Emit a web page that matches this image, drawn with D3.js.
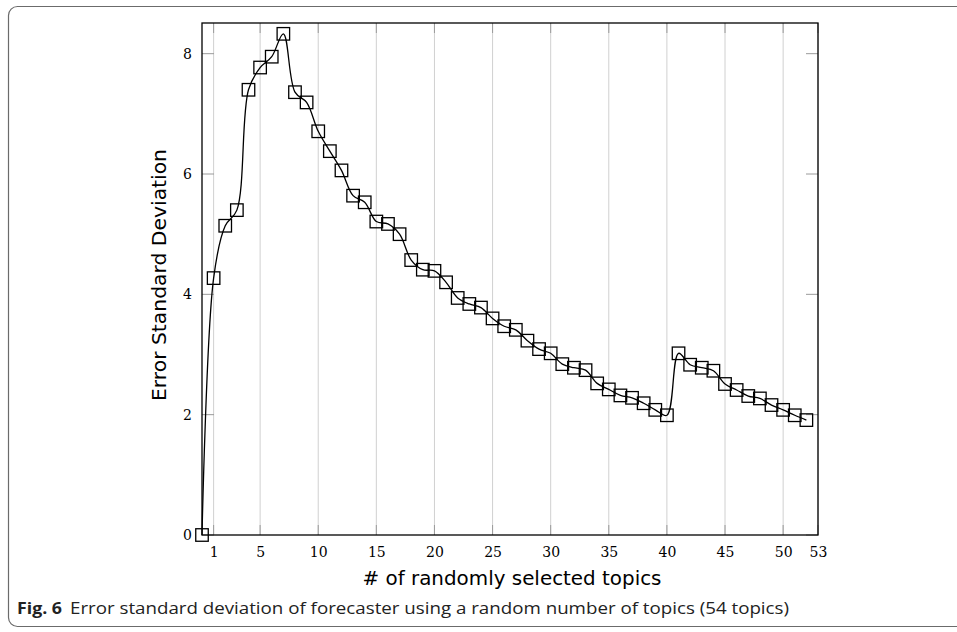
<!DOCTYPE html>
<html>
<head>
<meta charset="utf-8">
<script src="https://cdn.jsdelivr.net/npm/d3@7"></script>
<style>
  html, body { margin: 0; padding: 0; background: #fff; }
  svg { display: block; }
</style>
</head>
<body>
<svg id="chart" width="957" height="632"></svg>
<script>
// ---- data ----
const topics = [0,1,2,3,4,5,6,7,8,9,10,11,12,13,14,15,16,17,18,19,20,21,22,23,24,25,26,27,28,29,30,31,32,33,34,35,36,37,38,39,40,41,42,43,44,45,46,47,48,49,50,51,52];
const stdDev = [0,4.27,5.14,5.40,7.40,7.77,7.95,8.33,7.36,7.19,6.71,6.38,6.06,5.64,5.53,5.21,5.17,5.00,4.57,4.41,4.39,4.20,3.94,3.84,3.78,3.60,3.47,3.41,3.23,3.09,3.02,2.84,2.78,2.74,2.52,2.42,2.32,2.28,2.19,2.08,1.99,3.02,2.83,2.78,2.73,2.51,2.41,2.31,2.27,2.16,2.08,1.99,1.91];
const xTicks = [1,5,10,15,20,25,30,35,40,45,50,53];
const yTicks = [0,2,4,6,8];
const xLabel = "# of randomly selected topics";
const yLabel = "Error Standard Deviation";
const captionBold = "Fig. 6";
const captionText = "Error standard deviation of forecaster using a random number of topics (54 topics)";

// ---- layout ----
const svg = d3.select("#chart");
const L = 202, R = 818, T = 23, B = 535;
const x = d3.scaleLinear().domain([0, 53]).range([L, R]);
const y = d3.scaleLinear().domain([0, 8.51]).range([B, T]);

// outer frame (rounded box)
svg.append("rect")
  .attr("x", 8.5).attr("y", 6.5).attr("width", 980).attr("height", 620)
  .attr("rx", 9).attr("ry", 9)
  .attr("fill", "none").attr("stroke", "#6b6b6b").attr("stroke-width", 1.2);

// vertical grid
svg.append("g").selectAll("line").data(xTicks).join("line")
  .attr("x1", d => x(d)).attr("x2", d => x(d))
  .attr("y1", T).attr("y2", B)
  .attr("stroke", "#d0d0d0").attr("stroke-width", 1);

// tick marks (inside)
const tk = svg.append("g").attr("stroke", "#9a9a9a").attr("stroke-width", 1);
xTicks.forEach(d => {
  tk.append("line").attr("x1", x(d)).attr("x2", x(d)).attr("y1", B).attr("y2", B - 10);
  tk.append("line").attr("x1", x(d)).attr("x2", x(d)).attr("y1", T).attr("y2", T + 10);
});
yTicks.forEach(d => {
  tk.append("line").attr("x1", L).attr("x2", L + 12).attr("y1", y(d)).attr("y2", y(d));
  tk.append("line").attr("x1", R).attr("x2", R - 12).attr("y1", y(d)).attr("y2", y(d));
});

// axis box
svg.append("rect")
  .attr("x", L).attr("y", T).attr("width", R - L).attr("height", B - T)
  .attr("fill", "none").attr("stroke", "#000").attr("stroke-width", 1.3);

// tick labels using d3 axes (no lines)
const xAxis = svg.append("g").attr("transform", `translate(0,${B})`)
  .call(d3.axisBottom(x).tickValues(xTicks).tickSize(0).tickPadding(12).tickFormat(d3.format("d")));
const yAxis = svg.append("g").attr("transform", `translate(${L},0)`)
  .call(d3.axisLeft(y).tickValues(yTicks).tickSize(0).tickPadding(10).tickFormat(d3.format("d")));
[xAxis, yAxis].forEach(g => {
  g.select(".domain").remove();
  g.selectAll("text").attr("font-family", "'DejaVu Serif', 'Liberation Serif', serif")
    .attr("font-size", 14).attr("fill", "#000");
});

// line
const line = d3.line()
  .x((d, i) => x(topics[i]))
  .y(d => y(d))
  .curve(d3.curveCatmullRom.alpha(0.5));
svg.append("path").datum(stdDev)
  .attr("d", line).attr("fill", "none").attr("stroke", "#000").attr("stroke-width", 1.3);

// markers
const ms = 12.5;
svg.append("g").selectAll("rect").data(stdDev).join("rect")
  .attr("x", (d, i) => x(topics[i]) - ms / 2)
  .attr("y", d => y(d) - ms / 2)
  .attr("width", ms).attr("height", ms)
  .attr("fill", "none").attr("stroke", "#000").attr("stroke-width", 1.3);

// axis labels
svg.append("text")
  .attr("x", 512).attr("y", 585)
  .attr("text-anchor", "middle")
  .attr("font-family", "'DejaVu Sans', sans-serif")
  .attr("font-size", 19).attr("fill", "#000")
  .attr("textLength", 299).attr("lengthAdjust", "spacingAndGlyphs")
  .text(xLabel);

svg.append("text")
  .attr("transform", `translate(166,275) rotate(-90)`)
  .attr("text-anchor", "middle")
  .attr("font-family", "'DejaVu Sans', sans-serif")
  .attr("font-size", 19).attr("fill", "#000")
  .attr("textLength", 252).attr("lengthAdjust", "spacingAndGlyphs")
  .text(yLabel);

// caption
const capFont = "'Open Sans', 'Noto Sans', sans-serif";
svg.append("text")
  .attr("x", 17).attr("y", 614)
  .attr("font-family", capFont).attr("font-weight", "bold")
  .attr("font-size", 16).attr("fill", "#222")
  .attr("textLength", 45).attr("lengthAdjust", "spacingAndGlyphs")
  .text(captionBold);
svg.append("text")
  .attr("x", 70).attr("y", 614)
  .attr("font-family", capFont)
  .attr("font-size", 16).attr("fill", "#222")
  .attr("textLength", 719).attr("lengthAdjust", "spacingAndGlyphs")
  .text(captionText);
</script>
</body>
</html>
